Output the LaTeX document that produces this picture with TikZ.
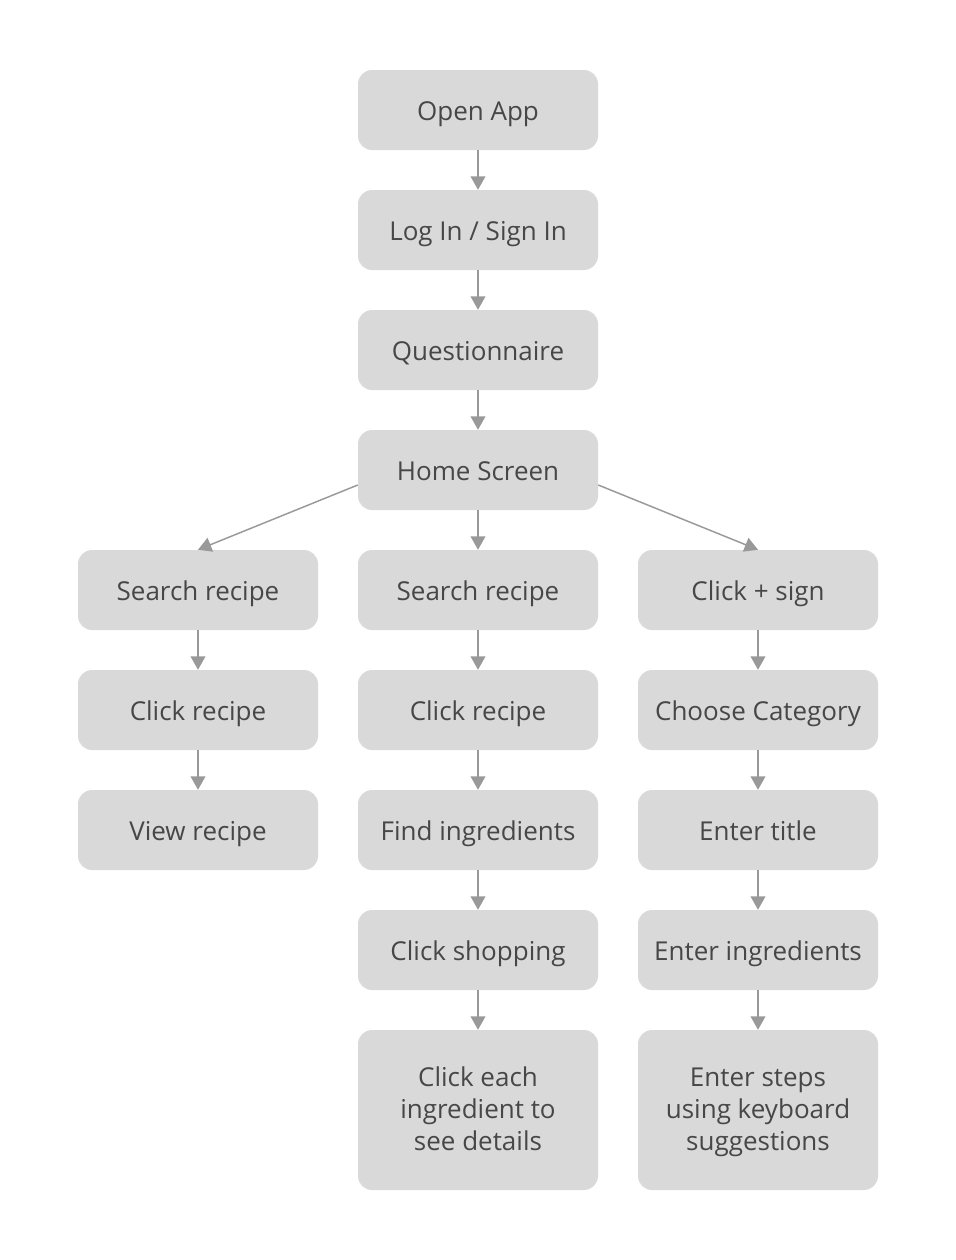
\documentclass[tikz,border=0pt]{standalone}
\usepackage{fontspec}
\setmainfont{Open Sans}
\usetikzlibrary{arrows.meta}
\definecolor{boxgray}{HTML}{D9D9D9}
\definecolor{textgray}{HTML}{474747}
\definecolor{linegray}{HTML}{999999}
\tikzset{
  stepbox/.style={rectangle, rounded corners=10.5pt, fill=boxgray,
    text=textgray, minimum width=180pt, minimum height=60pt,
    inner sep=0pt, align=center, text height=17pt, text depth=2pt,
    font=\fontsize{19.5pt}{24pt}\selectfont},
  tallbox/.style={stepbox, minimum height=120pt,
    text height=63pt, text depth=2pt},
  flow/.style={linegray, line width=1.1pt,
    -{Triangle[length=10pt, width=11pt]}}
}
\begin{document}
\begin{tikzpicture}[x=0.75pt, y=-0.75pt]
        \useasboundingbox (0,0) rectangle (956,1260);
        % main column
        \node[stepbox] (open) at (478,110) {Open App};
        \node[stepbox] (login) at (478,230) {Log In / Sign In};
        \node[stepbox] (quest) at (478,350) {Questionnaire};
        \node[stepbox] (home) at (478,470) {Home Screen};
        % left branch
        \node[stepbox] (searchL) at (198,590) {Search recipe};
        \node[stepbox] (clickL) at (198,710) {Click recipe};
        \node[stepbox] (viewL) at (198,830) {View recipe};
        % middle branch
        \node[stepbox] (searchM) at (478,590) {Search recipe};
        \node[stepbox] (clickM) at (478,710) {Click recipe};
        \node[stepbox] (findM) at (478,830) {Find ingredients};
        \node[stepbox] (shopM) at (478,950) {Click shopping};
        \node[tallbox] (eachM) at (478,1110) {Click each\\ingredient to\\see details};
        % right branch
        \node[stepbox] (plusR) at (758,590) {Click + sign};
        \node[stepbox] (catR) at (758,710) {Choose Category};
        \node[stepbox] (titleR) at (758,830) {Enter title};
        \node[stepbox] (ingrR) at (758,950) {Enter ingredients};
        \node[tallbox] (stepsR) at (758,1110) {Enter steps\\using keyboard\\suggestions};
        \draw[flow] (open) -- (login);
        \draw[flow] (login) -- (quest);
        \draw[flow] (quest) -- (home);
        \draw[flow] (home.west |- 0,485) -- (searchL.north);
        \draw[flow] (home) -- (searchM);
        \draw[flow] (home.east |- 0,485) -- (plusR.north);
        \draw[flow] (searchL) -- (clickL);
        \draw[flow] (clickL) -- (viewL);
        \draw[flow] (searchM) -- (clickM);
        \draw[flow] (clickM) -- (findM);
        \draw[flow] (findM) -- (shopM);
        \draw[flow] (shopM) -- (eachM);
        \draw[flow] (plusR) -- (catR);
        \draw[flow] (catR) -- (titleR);
        \draw[flow] (titleR) -- (ingrR);
        \draw[flow] (ingrR) -- (stepsR);
\end{tikzpicture}
\end{document}
